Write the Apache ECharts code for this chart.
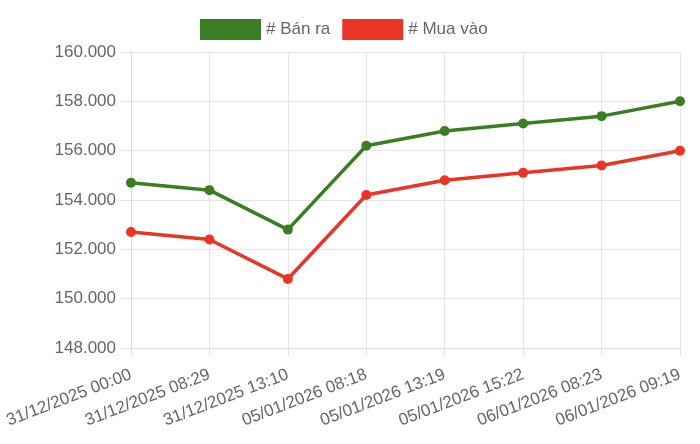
<!DOCTYPE html>
<html>
<head>
<meta charset="utf-8">
<script src="https://cdn.jsdelivr.net/npm/echarts@6/dist/echarts.min.js"></script>
<style>
html,body{margin:0;padding:0;background:#fff;}
#c{width:700px;height:444px;}
</style>
</head>
<body>
<div id="c"></div>
<script>
var categories = ["31/12/2025 00:00","31/12/2025 08:29","31/12/2025 13:10","05/01/2026 08:18","05/01/2026 13:19","05/01/2026 15:22","06/01/2026 08:23","06/01/2026 09:19"];
var banRa = [154700,154400,152800,156200,156800,157100,157400,158000];
var muaVao = [152700,152400,150800,154200,154800,155100,155400,156000];
var seriesNames = ["# Bán ra", "# Mua vào"];
var yMin = 148000, yMax = 160000, yStep = 2000;

var FONT = '"Liberation Sans", Arial, Helvetica, sans-serif';
var GREEN = '#3a7d22', RED = '#ea3526';
function fmt(v){ return String(v).replace(/\B(?=(\d{3})+(?!\d))/g, '.'); }

var chart = echarts.init(document.getElementById('c'));
chart.setOption({
  animation: false,
  textStyle: {fontFamily: FONT},
  legend: {
    top: 19, left: 200, padding: 0,
    itemWidth: 61, itemHeight: 21, itemGap: 12,
    icon: 'rect',
    textStyle: {fontSize: 17, color: '#666', fontFamily: FONT},
    data: seriesNames
  },
  grid: {left: 131, right: 20, top: 52, bottom: 96},
  xAxis: {
    type: 'category', data: categories, boundaryGap: false,
    axisLine: {show: true, lineStyle: {color: '#d9d9d9'}},
    axisTick: {show: true, length: 8, lineStyle: {color: '#e3e3e3'}},
    splitLine: {show: true, lineStyle: {color: '#e6e6e6'}},
    axisLabel: {rotate: 21, margin: 26, fontSize: 17, color: '#666', fontFamily: FONT, interval: 0}
  },
  yAxis: {
    type: 'value', min: yMin, max: yMax, interval: yStep,
    axisLine: {show: true, lineStyle: {color: '#d9d9d9'}},
    axisTick: {show: true, length: 10, lineStyle: {color: '#e3e3e3'}},
    splitLine: {show: true, lineStyle: {color: '#e6e6e6'}},
    axisLabel: {formatter: fmt, margin: 15, fontSize: 17, color: '#666', fontFamily: FONT}
  },
  series: [
    {name: seriesNames[0], type: 'line', data: banRa, symbol: 'circle', symbolSize: 10,
     lineStyle: {width: 3.5, color: GREEN}, itemStyle: {color: GREEN}},
    {name: seriesNames[1], type: 'line', data: muaVao, symbol: 'circle', symbolSize: 10,
     lineStyle: {width: 3.5, color: RED}, itemStyle: {color: RED}}
  ]
});
</script>
</body>
</html>
